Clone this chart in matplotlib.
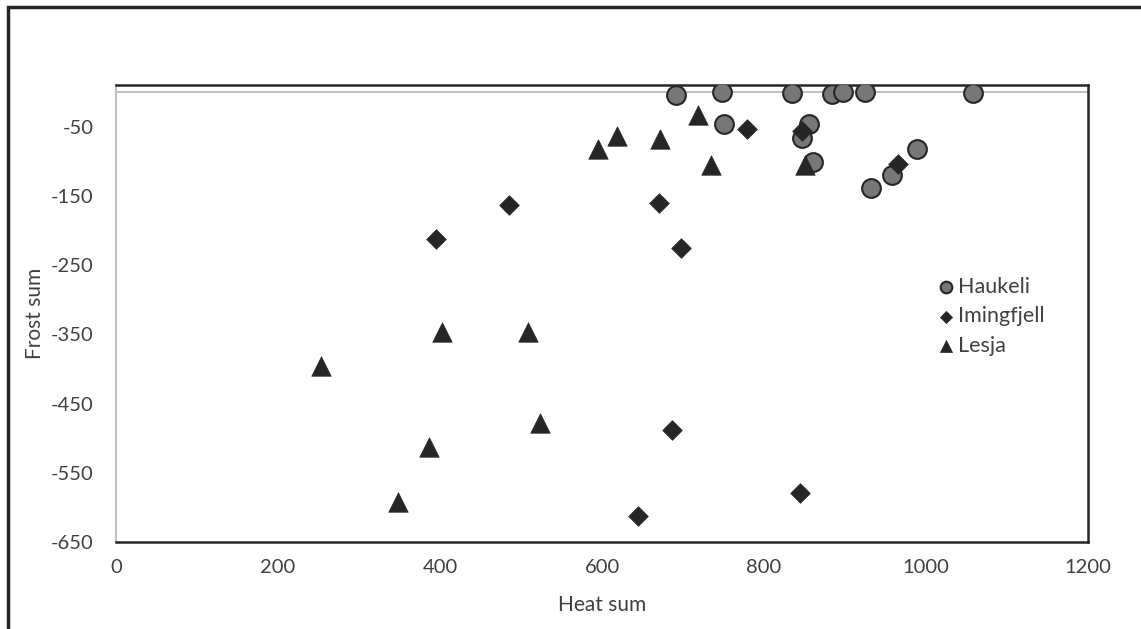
import matplotlib.pyplot as plt
from matplotlib.lines import Line2D

plt.rcParams['font.family'] = ['Lato', 'DejaVu Sans']
plt.rcParams['axes.unicode_minus'] = False

# data
haukeli_heat = [691, 748, 835, 884, 897, 925, 1058, 750, 855, 847, 861, 989, 958, 932]
haukeli_frost = [-5, 0, -1, -3, 0, 0, -2, -47, -47, -66, -101, -82, -120, -139]

imingfjell_heat = [779, 847, 965, 670, 485, 395, 697, 687, 845, 645]
imingfjell_frost = [-53, -57, -104, -160, -164, -212, -225, -488, -579, -613]

lesja_heat = [595, 618, 672, 718, 735, 850, 403, 509, 253, 524, 386, 348]
lesja_frost = [-83, -64, -68, -33, -106, -106, -347, -347, -396, -478, -513, -592]

x_ticks = [0, 200, 400, 600, 800, 1000, 1200]
y_ticks = [-50, -150, -250, -350, -450, -550, -650]

dark = '#262626'
text_col = '#404040'

fig = plt.figure(figsize=(11.41, 6.29), dpi=100)
ax = fig.add_axes([116 / 1141, 1 - 542 / 629, 972 / 1141, 457 / 629])

# outer chart border (only left and top edges fall inside the picture)
fig.add_artist(Line2D([8 / 1141, 8 / 1141, 1.05], [-0.05, 1 - 7 / 629, 1 - 7 / 629],
                      transform=fig.transFigure, color=dark, lw=2.5,
                      solid_joinstyle='miter'))

ax.axhline(0, color='#c0c0c0', lw=1.4, zorder=1)

ax.scatter(haukeli_heat, haukeli_frost, s=13.5 ** 2, marker='o', color='#777777',
           edgecolors=dark, linewidths=1.5, zorder=3, label='Haukeli')
ax.scatter(imingfjell_heat, imingfjell_frost, s=10 ** 2, marker='D', color=dark,
           edgecolors=dark, linewidths=0.5, zorder=4, label='Imingfjell')
ax.scatter(lesja_heat, lesja_frost, s=14 ** 2, marker='^', color=dark,
           edgecolors=dark, linewidths=0.5, zorder=5, label='Lesja')

ax.set_xlim(0, 1200)
ax.set_ylim(-650, 10)
ax.set_xticks(x_ticks)
ax.set_yticks(y_ticks)
ax.tick_params(length=0, labelsize=14.5, labelcolor=text_col)
ax.tick_params(axis='x', pad=12)
ax.tick_params(axis='y', pad=16)

for side in ['top', 'right', 'bottom']:
    ax.spines[side].set_color(dark)
    ax.spines[side].set_linewidth(1.8)
ax.spines['left'].set_color('#bfbfbf')
ax.spines['left'].set_linewidth(1.5)

ax.set_xlabel('Heat sum', fontsize=15, color=text_col, labelpad=14)
ax.set_ylabel('Frost sum', fontsize=15, color=text_col, labelpad=4)

leg = ax.legend(loc='upper left', bbox_to_anchor=(924 / 1141, 1 - 266 / 629),
                bbox_transform=fig.transFigure, frameon=False, fontsize=15.5,
                markerscale=0.62, handletextpad=0.1, labelspacing=0.45,
                borderpad=0, handlelength=1.0)
for t in leg.get_texts():
    t.set_color(text_col)

fig.savefig('out.png', dpi=100)
